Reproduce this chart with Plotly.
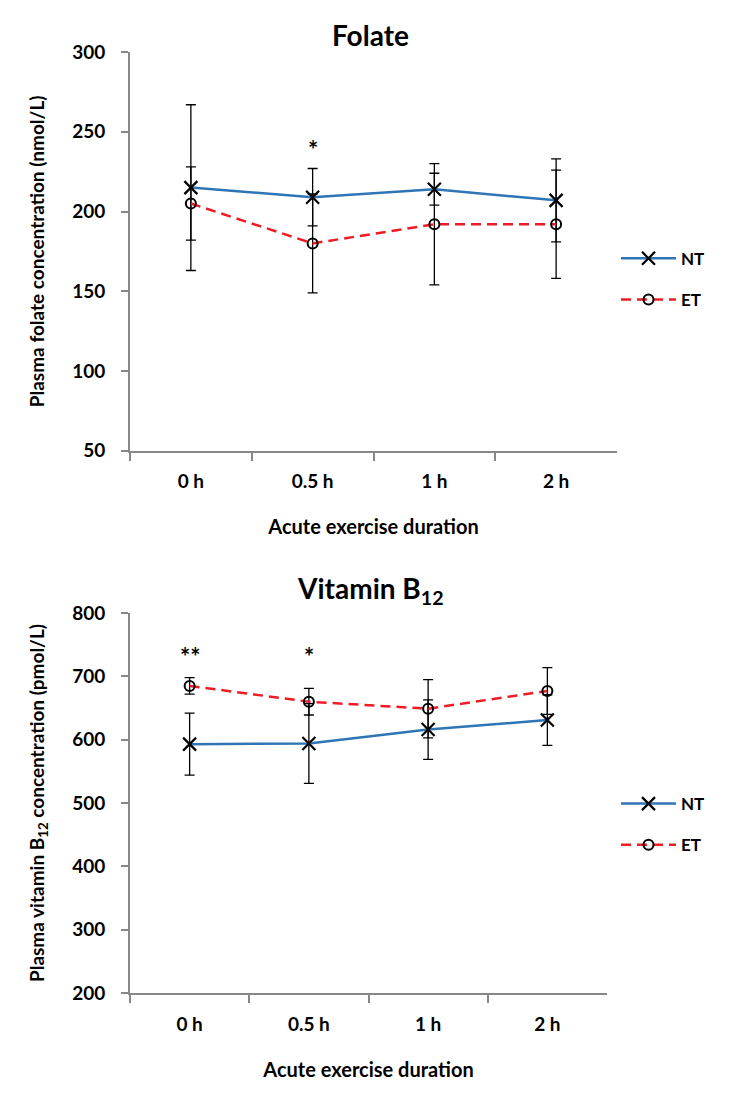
import plotly.graph_objects as go

# ---------------- data ----------------
categories = ["0 h", "0.5 h", "1 h", "2 h"]

folate_nt = [215, 209, 214, 207]
folate_nt_sd = [52, 18, 10, 26]
folate_et = [205, 180, 192, 192]
folate_et_sd = [23, 31, 38, 34]

b12_nt = [593, 594, 616, 631]
b12_nt_sd = [49, 63, 47, 40]
b12_et = [685, 660, 649, 677]
b12_et_sd = [13, 21, 46, 37]

folate_ticks = [50, 100, 150, 200, 250, 300]
b12_ticks = [200, 300, 400, 500, 600, 700, 800]

# significance marks (category, y position, label)
folate_sig = [("0.5 h", 239, "*")]
b12_sig = [("0 h", 732, "**"), ("0.5 h", 732, "*")]

# ---------------- style ----------------
W, H = 729, 1094
FONT = "Lato"
BLUE = "#2E75B6"
RED = "#EE1C25"
AXIS = "#888888"

def px_x(p):
    return p / W

def px_y(p):
    return 1 - p / H

fig = go.Figure()

def add_series(xa, ya, nt, nt_sd, et, et_sd, legend, tag):
    fig.add_trace(go.Scatter(
        x=categories, y=nt, name="NT", xaxis=xa, yaxis=ya, legend=legend,
        legendgroup=tag + "nt",
        mode="lines+markers",
        line=dict(color=BLUE, width=2.5),
        marker=dict(symbol="x-thin", size=13, color="black",
                    line=dict(color="black", width=2.2)),
        error_y=dict(type="data", array=nt_sd, visible=True,
                     color="black", thickness=1.3, width=5),
    ))
    fig.add_trace(go.Scatter(
        x=categories, y=et, name="ET", xaxis=xa, yaxis=ya, legend=legend,
        legendgroup=tag + "et",
        mode="lines+markers",
        line=dict(color=RED, width=2.5, dash="10px,6px"),
        marker=dict(symbol="circle-open", size=10, color="black",
                    line=dict(color="black", width=2)),
        error_y=dict(type="data", array=et_sd, visible=True,
                     color="black", thickness=1.3, width=5),
    ))

add_series("x", "y", folate_nt, folate_nt_sd, folate_et, folate_et_sd, "legend", "f")
add_series("x2", "y2", b12_nt, b12_nt_sd, b12_et, b12_et_sd, "legend2", "b")

tickfont = dict(family=FONT, size=19, color="black", weight="bold")
xtitlefont = dict(family=FONT, size=20, color="black", weight="bold")
ytitlefont = dict(family=FONT, size=19, color="black", weight="bold")
legfont = dict(family=FONT, size=17, color="black", weight="bold")

def xaxis_cfg(dom, anchor):
    return dict(
        domain=dom, anchor=anchor, type="category",
        categoryorder="array", categoryarray=categories,
        range=[-0.5, 3.5], tickson="boundaries",
        showline=True, linecolor=AXIS, linewidth=2,
        ticks="outside", ticklen=8, tickwidth=2, tickcolor=AXIS,
        showgrid=False, zeroline=False, tickfont=tickfont,
        ticklabelstandoff=13,
        title=dict(text="Acute exercise duration", font=xtitlefont, standoff=29),
    )

def yaxis_cfg(dom, anchor, rng, tv, title):
    return dict(
        domain=dom, anchor=anchor, range=rng, tickvals=tv,
        showline=True, linecolor=AXIS, linewidth=2,
        ticks="outside", ticklen=7, tickwidth=2, tickcolor=AXIS,
        showgrid=False, zeroline=False, tickfont=tickfont,
        ticklabelstandoff=12,
        title=dict(text=title, font=ytitlefont, standoff=22),
    )

fig.update_layout(
    width=W, height=H,
    margin=dict(l=0, r=0, t=0, b=0),
    paper_bgcolor="white", plot_bgcolor="white",
    showlegend=True,
    xaxis=xaxis_cfg([px_x(130), px_x(617)], "y"),
    yaxis=yaxis_cfg([px_y(448), px_y(41)], "x", [50, 300], folate_ticks,
                    "Plasma folate concentration (nmol/L)"),
    xaxis2=xaxis_cfg([px_x(130), px_x(607)], "y2"),
    yaxis2=yaxis_cfg([px_y(1002), px_y(614)], "x2", [200, 800], b12_ticks,
                     "Plasma vitamin B<sub>12</sub> concentration (pmol/L)"),
    legend=dict(x=px_x(616), y=px_y(273), xanchor="left", yanchor="middle",
                font=legfont, itemwidth=55, tracegroupgap=16,
                bgcolor="rgba(0,0,0,0)"),
    legend2=dict(x=px_x(616), y=px_y(830), xanchor="left", yanchor="middle",
                 font=legfont, itemwidth=55, tracegroupgap=16,
                 bgcolor="rgba(0,0,0,0)"),
    annotations=[
        dict(text="Folate", x=px_x(370), y=px_y(24), xref="paper", yref="paper",
             xanchor="center", yanchor="middle", showarrow=False,
             font=dict(family=FONT, size=28, color="black", weight="bold")),
        dict(text="Vitamin B<sub>12</sub>", x=px_x(370), y=px_y(590),
             xref="paper", yref="paper", xanchor="center", yanchor="middle",
             showarrow=False,
             font=dict(family=FONT, size=28, color="black", weight="bold")),
    ] + [
        dict(text=t, x=c, y=v, xref="x", yref="y", showarrow=False,
             font=dict(family=FONT, size=24, color="black", weight="bold"))
        for c, v, t in folate_sig
    ] + [
        dict(text=t, x=c, y=v, xref="x2", yref="y2", showarrow=False,
             font=dict(family=FONT, size=24, color="black", weight="bold"))
        for c, v, t in b12_sig
    ],
)

fig.write_html("out.html", config={"displayModeBar": False},
               post_script="document.body.style.margin='0px';")
